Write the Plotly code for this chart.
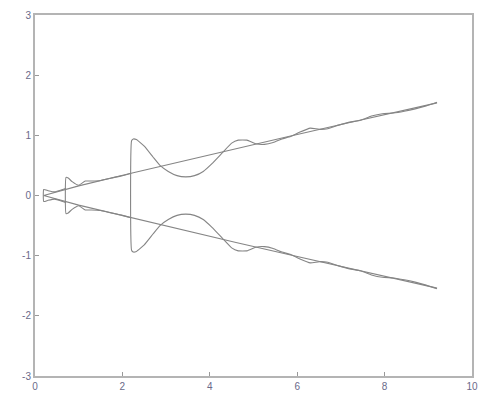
import plotly.graph_objects as go

# Straight diverging branch (upper; lower is its mirror)
line_x = [0.20, 1.0, 2.2, 3.4, 4.6, 5.8, 7.0, 8.2, 9.20]
line_y = [0.00, 0.16, 0.37, 0.57, 0.78, 0.98, 1.18, 1.38, 1.54]

# Small first loop near the origin (upper half)
fish0_x = [0.20, 0.30, 0.45, 0.60, 0.71]
fish0_y = [0.10, 0.08, 0.06, 0.09, 0.12]

# Second loop starting at x ~ 0.71 (upper half)
fish1_x = [0.71, 0.76, 0.85, 1.00, 1.15, 1.30, 1.50, 1.75, 2.00, 2.20]
fish1_y = [0.30, 0.29, 0.23, 0.17, 0.24, 0.24, 0.25, 0.29, 0.33, 0.37]

# Large loop starting at x ~ 2.21 (upper half)
fish2_x = [2.21, 2.25, 2.32, 2.50, 2.70, 2.86, 3.05, 3.25, 3.45, 3.65, 3.85,
           4.05, 4.30, 4.50, 4.65, 4.85, 5.05, 5.25, 5.45, 5.65, 5.85, 6.05,
           6.30, 6.50, 6.70, 6.95, 7.20, 7.45, 7.70, 7.95, 8.20, 8.45, 8.70,
           8.95, 9.20]
fish2_y = [0.91, 0.94, 0.93, 0.82, 0.64, 0.50, 0.40, 0.33, 0.31, 0.33, 0.40,
           0.53, 0.72, 0.87, 0.92, 0.92, 0.86, 0.85, 0.88, 0.94, 0.98, 1.05,
           1.12, 1.10, 1.11, 1.17, 1.22, 1.25, 1.32, 1.36, 1.37, 1.40, 1.44,
           1.49, 1.55]

x_tick_vals = [0, 2, 4, 6, 8, 10]
y_tick_vals = [-3, -2, -1, 0, 1, 2, 3]
y_tick_text = ["-3", "-2", "-1", "0", "1", "2", "3"]

LINE = dict(color="#858585", width=1.1)


def loop(xs, ys):
    # upper branch reversed, then vertical jump, then mirrored lower branch
    x = list(reversed(xs)) + list(xs)
    y = list(reversed(ys)) + [-v for v in ys]
    return x, y


fig = go.Figure()

# straight branches
lx = list(reversed(line_x)) + line_x[1:]
ly = list(reversed(line_y)) + [-v for v in line_y[1:]]
fig.add_trace(go.Scatter(x=lx, y=ly, mode="lines", line=LINE, showlegend=False))

for fx, fy in [(fish0_x, fish0_y), (fish1_x, fish1_y), (fish2_x, fish2_y)]:
    x, y = loop(fx, fy)
    fig.add_trace(go.Scatter(x=x, y=y, mode="lines",
                             line=dict(LINE, shape="spline", smoothing=0.4),
                             showlegend=False))

axis_common = dict(
    showgrid=False, zeroline=False, showline=True, mirror=True,
    linecolor="#b4b4b4", linewidth=2, automargin=False,
    ticks="inside", ticklen=4, tickcolor="#999999", tickwidth=1,
    tickfont=dict(family="Liberation Sans, Arial, sans-serif", size=10, color="#6a6a8a"),
)

fig.update_layout(
    width=478, height=395,
    margin=dict(l=27, r=14, t=7, b=27),
    paper_bgcolor="white", plot_bgcolor="white",
    xaxis=dict(axis_common, range=[0, 10], tickvals=x_tick_vals),
    yaxis=dict(axis_common, range=[-3, 3], tickvals=y_tick_vals, ticktext=y_tick_text),
)

fig.write_html("out.html")
